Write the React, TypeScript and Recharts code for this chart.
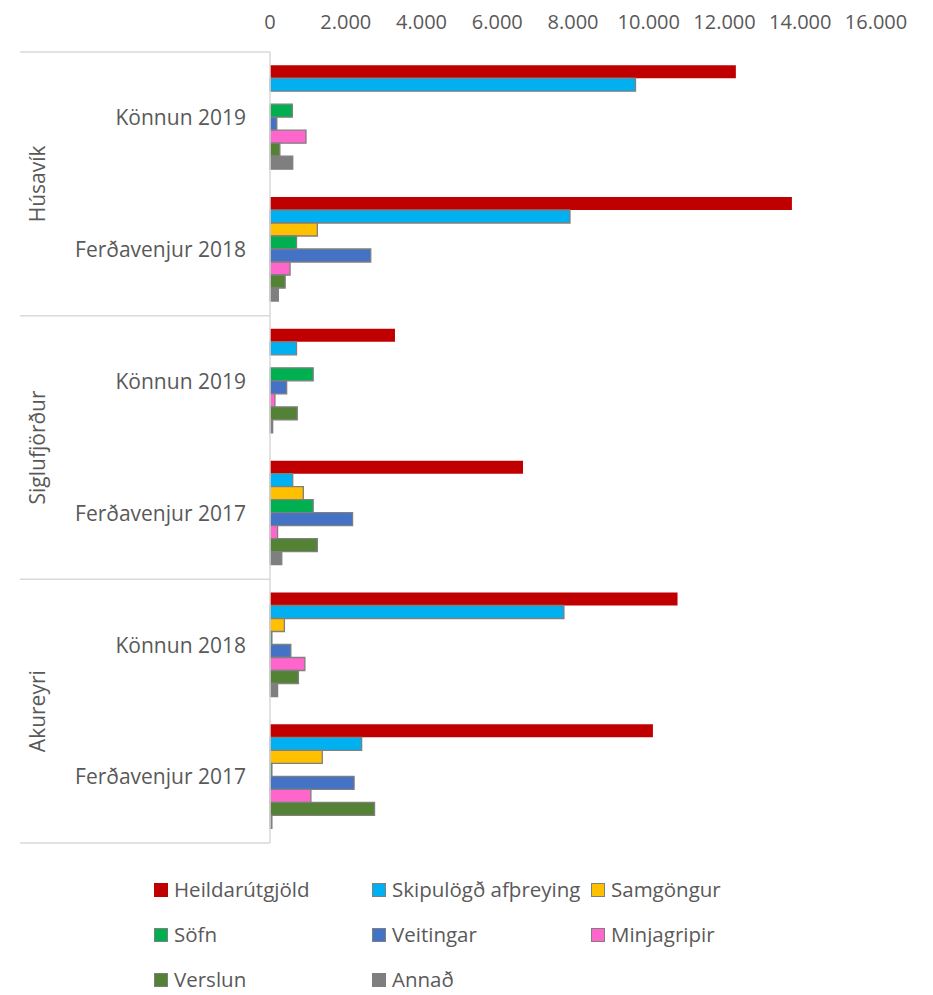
import { BarChart, Bar, XAxis, YAxis } from "recharts";

const towns = ["Húsavík", "Húsavík", "Siglufjörður", "Siglufjörður", "Akureyri", "Akureyri"];
const surveys = ["Könnun 2019", "Ferðavenjur 2018", "Könnun 2019", "Ferðavenjur 2017", "Könnun 2018", "Ferðavenjur 2017"];

const heildarutgjold = [12300, 13780, 3300, 6680, 10760, 10110];
const skipulogd = [9650, 7920, 700, 600, 7760, 2420];
const samgongur = [0, 1250, 0, 880, 380, 1380];
const sofn = [590, 700, 1140, 1140, 50, 50];
const veitingar = [180, 2660, 440, 2180, 550, 2220];
const minjagripir = [950, 530, 130, 200, 920, 1080];
const verslun = [260, 400, 720, 1250, 750, 2760];
const annad = [600, 220, 70, 310, 200, 50];

const xTicks = [0, 2000, 4000, 6000, 8000, 10000, 12000, 14000, 16000];

const series = [
  { key: "heildar", name: "Heildarútgjöld", color: "#C00000", values: heildarutgjold, outline: false },
  { key: "skipulogd", name: "Skipulögð afþreying", color: "#00B0F0", values: skipulogd, outline: true },
  { key: "samgongur", name: "Samgöngur", color: "#FFC000", values: samgongur, outline: true },
  { key: "sofn", name: "Söfn", color: "#00B050", values: sofn, outline: true },
  { key: "veitingar", name: "Veitingar", color: "#4472C4", values: veitingar, outline: true },
  { key: "minjagripir", name: "Minjagripir", color: "#FF66CC", values: minjagripir, outline: true },
  { key: "verslun", name: "Verslun", color: "#548235", values: verslun, outline: true },
  { key: "annad", name: "Annað", color: "#7F7F7F", values: annad, outline: true },
];

const rows = surveys.map((s, i) => {
  const row: Record<string, string | number> = { key: `${towns[i]} ${i}`, town: towns[i], survey: s };
  series.forEach((sr) => (row[sr.key] = sr.values[i]));
  return row;
});

// layout
const W = 933;
const H = 850;
const M = { top: 0, right: 57, left: 20, bottom: 7 };
const X_AXIS_H = 52;
const Y_AXIS_W = 250;
const AXIS_X = M.left + Y_AXIS_W;
const BAND = (H - M.top - M.bottom - X_AXIS_H) / rows.length;
const TEXT = "#595959";
const GRID = "#D9D9D9";

const fmt = (v: number) => String(v).replace(/\B(?=(\d{3})+(?!\d))/g, ".");

function CategoryTick(props: any) {
  const { x, y, payload } = props;
  const i = rows.findIndex((r) => r.key === payload.value);
  if (i < 0) return null;
  const half = BAND / 2;
  return (
    <g>
      <text x={x} y={y} dy="0.35em" textAnchor="end" fill={TEXT} fontSize={21}>
        {rows[i].survey}
      </text>
      {i % 2 === 0 && (
        <line x1={M.left} x2={AXIS_X} y1={y - half} y2={y - half} stroke={GRID} strokeWidth={1.5} />
      )}
      {i === rows.length - 1 && (
        <line x1={M.left} x2={AXIS_X} y1={y + half} y2={y + half} stroke={GRID} strokeWidth={1.5} />
      )}
      {i % 2 === 1 && (
        <text
          transform={`translate(37.5, ${y - half}) rotate(-90)`}
          textAnchor="middle"
          dy="0.35em"
          fill={TEXT}
          fontSize={21}
        >
          {rows[i].town}
        </text>
      )}
    </g>
  );
}

export default function App() {
  return (
    <div style={{ position: "absolute", left: 0, top: 0, width: W, height: 995, fontFamily: "'Open Sans', sans-serif", background: "#fff" }}>
      <BarChart
        width={W}
        height={H}
        data={rows}
        layout="vertical"
        margin={M}
        barCategoryGap="10%"
        barGap={0}
      >
        <XAxis
          type="number"
          orientation="top"
          domain={[0, 16000]}
          ticks={xTicks}
          tickFormatter={fmt}
          height={X_AXIS_H}
          axisLine={false}
          tickLine={false}
          tickSize={0}
          tickMargin={23}
          tick={{ fill: TEXT, fontSize: 20 }}
        />
        <YAxis
          type="category"
          dataKey="key"
          width={Y_AXIS_W}
          interval={0}
          tickLine={false}
          tickSize={0}
          tickMargin={24}
          axisLine={{ stroke: GRID, strokeWidth: 1.5 }}
          tick={<CategoryTick />}
        />
        {series.map((s) => (
          <Bar
            key={s.key}
            dataKey={s.key}
            name={s.name}
            fill={s.color}
            stroke={s.outline ? "#7F7F7F" : "none"}
            strokeWidth={1.3}
            isAnimationActive={false}
          />
        ))}
      </BarChart>
      <div
        style={{
          position: "absolute",
          left: 154,
          top: 867,
          display: "grid",
          gridTemplateColumns: "218px 219px 200px",
          gridAutoRows: "45px",
          alignItems: "center",
          color: TEXT,
          fontSize: 20.5,
          lineHeight: 1,
        }}
      >
        {series.map((s) => (
          <div key={s.key} style={{ display: "flex", alignItems: "center", whiteSpace: "nowrap" }}>
            <span
              style={{
                display: "inline-block",
                width: 12,
                height: 12,
                background: s.color,
                border: s.outline ? "1.3px solid #7F7F7F" : "1.3px solid " + s.color,
                marginRight: 6,
              }}
            />
            <span>{s.name}</span>
          </div>
        ))}
      </div>
    </div>
  );
}
